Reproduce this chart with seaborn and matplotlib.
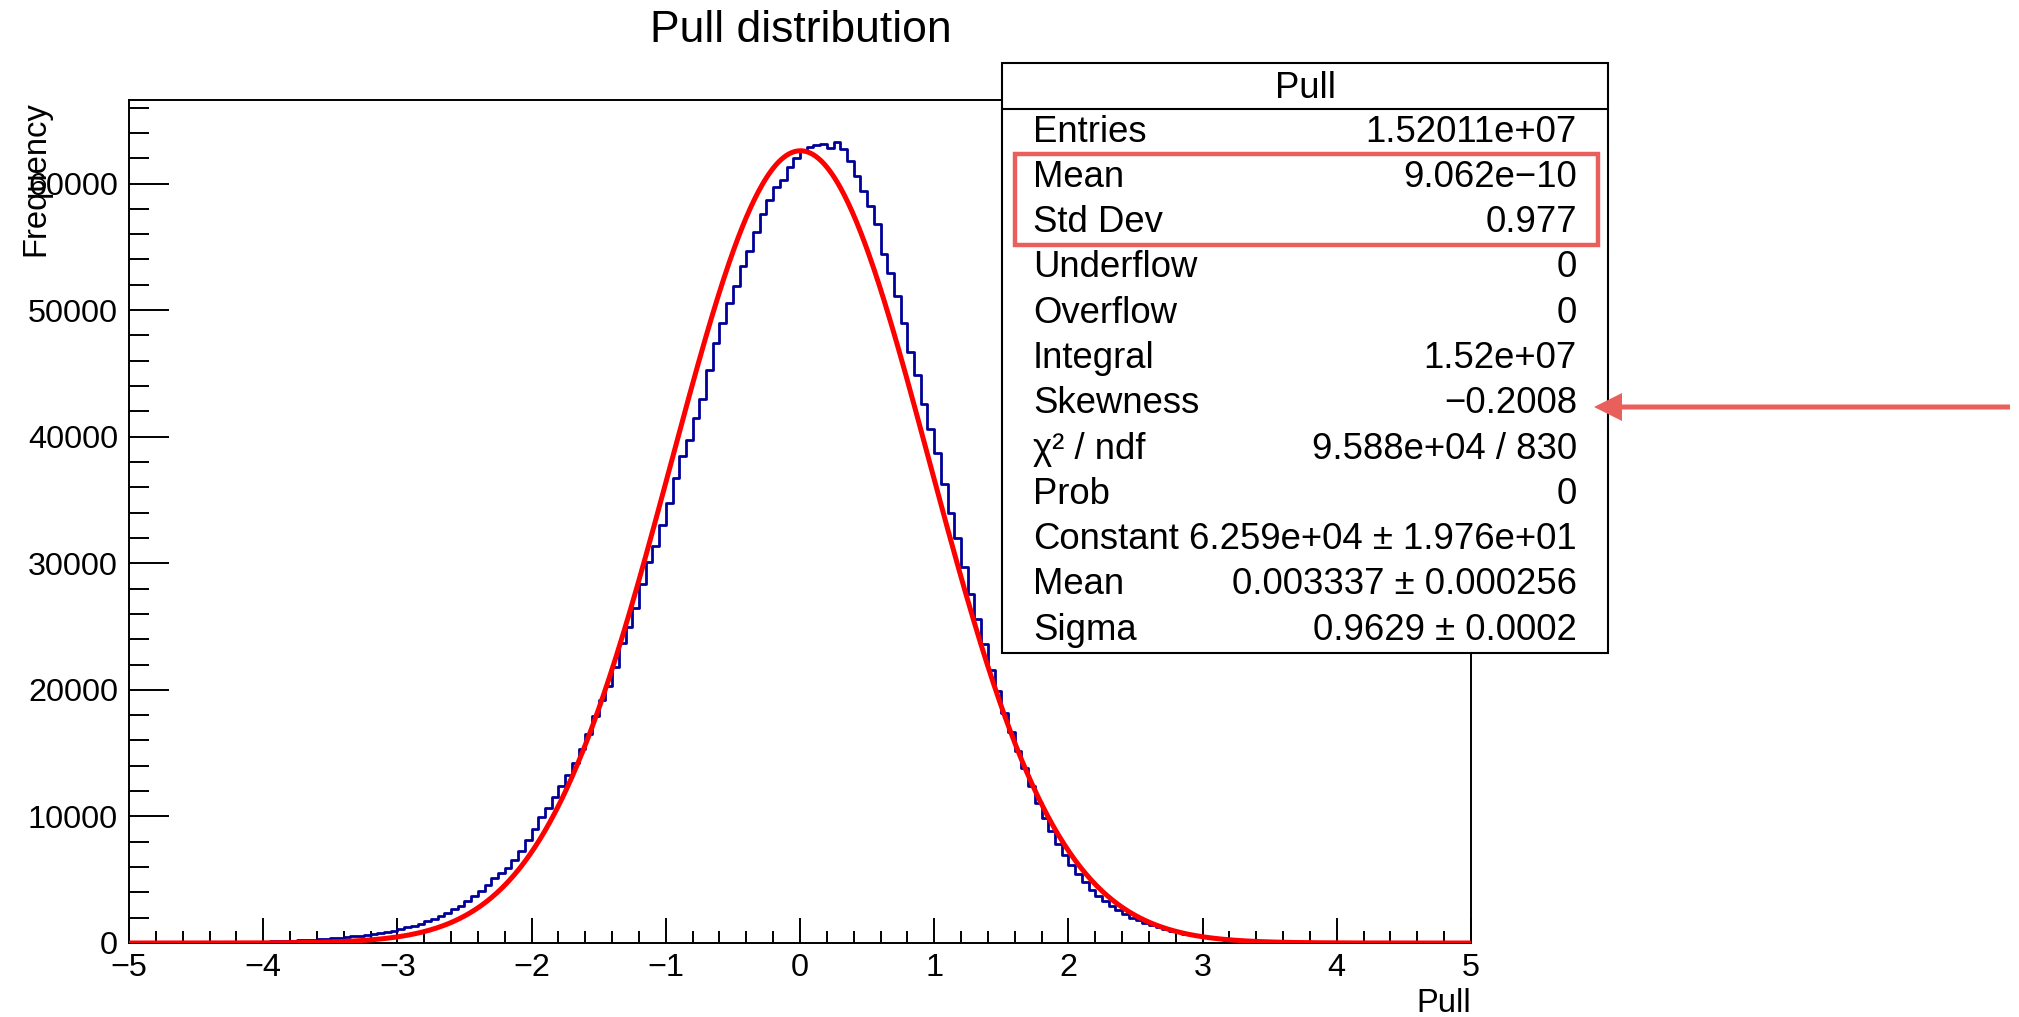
import numpy as np
import pandas as pd
import matplotlib
matplotlib.use("Agg")
import matplotlib.pyplot as plt
from matplotlib.patches import Rectangle, FancyArrow
from matplotlib.ticker import MultipleLocator
import seaborn as sns

# ---------------------------------------------------------------------------
# Data
# ---------------------------------------------------------------------------
# Pull histogram: 200 bins of width 0.05 on [-5, 5], counts per bin
pull_counts = [
    3, 4, 5, 6, 8, 10, 12, 14, 17, 20,
    24, 28, 33, 39, 45, 52, 60, 69, 80, 92,
    106, 122, 140, 160, 180, 205, 232, 262, 295, 330,
    370, 415, 465, 520, 580, 640, 710, 790, 880, 980,
    1100, 1240, 1380, 1540, 1720, 1900, 2100, 2380, 2650, 2950,
    3350, 3700, 4100, 4600, 5100, 5500, 5950, 6550, 7300, 8150,
    9000, 9950, 10700, 11500, 12400, 13300, 14200, 15300, 16500, 17900,
    19200, 20300, 21800, 23700, 25000, 26500, 28400, 30100, 31400, 33000,
    34800, 36700, 38500, 39700, 41500, 43000, 45300, 47400, 49000, 50600,
    51900, 53500, 54700, 56200, 57600, 58700, 59700, 60300, 61300, 62000,
    62600, 62900, 63050, 63150, 62800, 63250, 62700, 61800, 60600, 59400,
    58200, 56800, 54400, 52900, 51100, 49000, 46700, 44900, 42600, 40600,
    38700, 36300, 34000, 32000, 29700, 27600, 25600, 23600, 21600, 19900,
    18200, 16700, 15200, 13800, 12400, 11100, 9900, 8850, 7850, 6950,
    6150, 5450, 4800, 4220, 3720, 3300, 2920, 2580, 2280, 2010,
    1780, 1580, 1400, 1230, 1080, 950, 830, 720, 620, 530,
    450, 380, 320, 270, 225, 188, 155, 128, 105, 86,
    70, 57, 46, 37, 30, 24, 19, 15, 12, 9,
    7, 6, 5, 4, 3, 3, 2, 2, 1, 1,
    1, 1, 0, 0, 0, 0, 0, 0, 0, 0,
]
pull_range = (-5.0, 5.0)

# Gaussian fit parameters
fit_constant = 6.259e4
fit_mean = 0.003337
fit_sigma = 0.9629

# Statistics box
stats_title = "Pull"
stat_names = ["Entries", "Mean", "Std Dev", "Underflow", "Overflow", "Integral",
              "Skewness", "\u03c7\u00b2 / ndf", "Prob", "Constant", "Mean", "Sigma"]
stat_values = ["1.52011e+07", "9.062e\u221210", "0.977", "0", "0", "1.52e+07",
               "\u22120.2008", "9.588e+04 / 830", "0",
               "6.259e+04 \u00b1 1.976e+01", "0.003337 \u00b1 0.000256",
               "0.9629 \u00b1 0.0002"]

x_ticks = [-5, -4, -3, -2, -1, 0, 1, 2, 3, 4, 5]
y_ticks = [0, 10000, 20000, 30000, 40000, 50000, 60000]

# ---------------------------------------------------------------------------
# Style
# ---------------------------------------------------------------------------
sns.set_style("ticks")
plt.rcParams["font.family"] = ["Liberation Sans", "DejaVu Sans"]
plt.rcParams.update({
    "text.color": "black",
    "axes.labelcolor": "black",
    "axes.edgecolor": "black",
    "xtick.color": "black",
    "ytick.color": "black",
})

W, H, DPI = 2019, 1017, 100
fig = plt.figure(figsize=(W / DPI, H / DPI), dpi=DPI, facecolor="white")

# main frame in pixel geometry
ax_l, ax_r, ax_t, ax_b = 129, 1471, 100, 943
ax = fig.add_axes([ax_l / W, 1 - ax_b / H, (ax_r - ax_l) / W, (ax_b - ax_t) / H])

n_bins = len(pull_counts)
bin_w = (pull_range[1] - pull_range[0]) / n_bins
hist_df = pd.DataFrame({
    "pull": pull_range[0] + bin_w * (np.arange(n_bins) + 0.5),
    "count": np.asarray(pull_counts, dtype=float),
})

sns.histplot(data=hist_df, x="pull", weights="count", bins=n_bins,
             binrange=pull_range, element="step", fill=False,
             color="#000099", linewidth=2.0, ax=ax, zorder=2)

xs = np.linspace(pull_range[0], pull_range[1], 1001)
fit_curve = fit_constant * np.exp(-0.5 * ((xs - fit_mean) / fit_sigma) ** 2)
sns.lineplot(x=xs, y=fit_curve, color="#FF0000", linewidth=3.6, ax=ax, zorder=3)

ax.set_xlim(*pull_range)
ax.set_ylim(0, 66600)
ax.set_xlabel("")
ax.set_ylabel("")
ax.set_xticks(x_ticks)
ax.set_yticks(y_ticks)
ax.xaxis.set_minor_locator(MultipleLocator(0.2))
ax.yaxis.set_minor_locator(MultipleLocator(2000))
ax.tick_params(axis="x", which="major", direction="in", length=18, width=1.4,
               pad=7, labelsize=23.3, bottom=True, top=False, colors="black")
ax.tick_params(axis="x", which="minor", direction="in", length=9, width=1.4,
               bottom=True, top=False, colors="black")
ax.tick_params(axis="y", which="major", direction="in", length=28.8, width=1.4,
               pad=8, labelsize=23.3, left=True, right=False, colors="black")
ax.tick_params(axis="y", which="minor", direction="in", length=14.4, width=1.4,
               left=True, right=False, colors="black")
for s in ax.spines.values():
    s.set_visible(True)
    s.set_linewidth(1.4)
    s.set_color("black")

# ---------------------------------------------------------------------------
# Overlay in pixel coordinates: title, labels, stats box, highlights
# ---------------------------------------------------------------------------
ov = fig.add_axes([0, 0, 1, 1], zorder=10)
ov.set_xlim(0, W)
ov.set_ylim(H, 0)
ov.axis("off")
ov.patch.set_visible(False)

ov.text(801, 30, "Pull distribution", ha="center", va="center", fontsize=32,
        color="black")
ov.text(36, 101, "Frequency", rotation=90, ha="center", va="top", fontsize=23.6,
        color="black")
ov.text(ax_r, 1004, "Pull", ha="right", va="center", fontsize=23.6,
        color="black")

bx_l, bx_r, bx_t, bx_b = 1002, 1608, 63, 653
ov.add_patch(Rectangle((bx_l, bx_t), bx_r - bx_l, bx_b - bx_t, facecolor="white",
                       edgecolor="black", linewidth=1.5, zorder=1))
ov.plot([bx_l, bx_r], [109, 109], color="black", linewidth=1.5, zorder=2)
ov.text((bx_l + bx_r) / 2, 88, stats_title, ha="center", va="center",
        fontsize=26.3, color="black", zorder=3)

row_y0, row_dy = 132, 45.3
for i, (name, val) in enumerate(zip(stat_names, stat_values)):
    y = row_y0 + i * row_dy
    ov.text(1033, y, name, ha="left", va="center", fontsize=26.3,
            color="black", zorder=3)
    ov.text(1577, y, val, ha="right", va="center", fontsize=26.3,
            color="black", zorder=3)

hl_color = "#E95F5B"
ov.add_patch(Rectangle((1015, 154), 583, 91, fill=False, edgecolor=hl_color,
                       linewidth=3.2, zorder=4))
ov.add_patch(FancyArrow(2010, 407, -416, 0, width=5, head_width=28,
                        head_length=28, length_includes_head=True,
                        color=hl_color, linewidth=0, zorder=4))

fig.savefig("out.png", dpi=DPI, facecolor="white")
